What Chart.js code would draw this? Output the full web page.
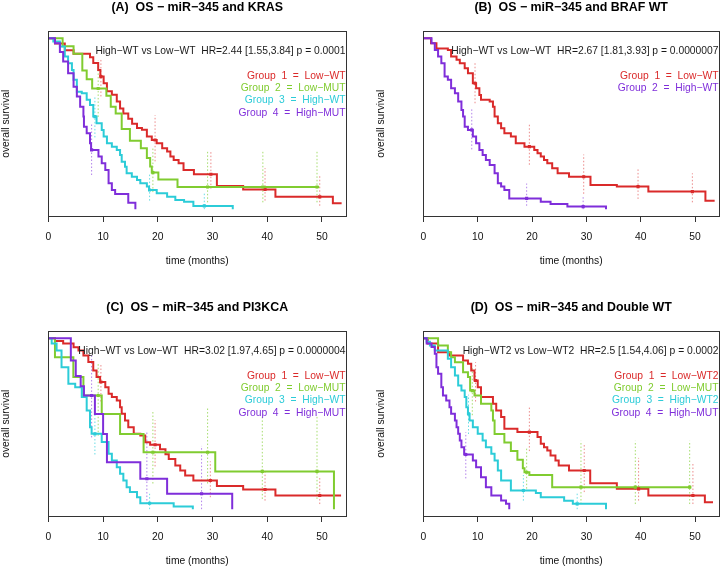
<!DOCTYPE html>
<html><head><meta charset="utf-8">
<script src="https://cdn.jsdelivr.net/npm/chart.js@4.4.1/dist/chart.umd.min.js"></script>
<style>
html,body{margin:0;padding:0;background:#fff;width:723px;height:567px;overflow:hidden;position:relative}
canvas{position:absolute;display:block}
</style></head><body>
<canvas id="cA" width="375" height="300" style="left:0;top:0"></canvas>
<canvas id="cB" width="348" height="300" style="left:375px;top:0"></canvas>
<canvas id="cC" width="375" height="267" style="left:0;top:300px"></canvas>
<canvas id="cD" width="348" height="267" style="left:375px;top:300px"></canvas>
<script>
// ---------- text ----------
const panelTitles = ["(A)  OS − miR−345 and KRAS","(B)  OS − miR−345 and BRAF WT","(C)  OS − miR−345 and PI3KCA","(D)  OS − miR−345 and Double WT"];
const hrTexts = ["High−WT vs Low−WT  HR=2.44 [1.55,3.84] p = 0.0001","High−WT vs Low−WT  HR=2.67 [1.81,3.93] p = 0.0000007","High−WT vs Low−WT  HR=3.02 [1.97,4.65] p = 0.0000004","High−WT2 vs Low−WT2  HR=2.5 [1.54,4.06] p = 0.0002"];
const groupsA = ["Group  1  =  Low−WT","Group  2  =  Low−MUT","Group  3  =  High−WT","Group  4  =  High−MUT"];
const groupsB = ["Group  1  =  Low−WT","Group  2  =  High−WT"];
const groupsC = ["Group  1  =  Low−WT","Group  2  =  Low−MUT","Group  3  =  High−WT","Group  4  =  High−MUT"];
const groupsD = ["Group  1  =  Low−WT2","Group  2  =  Low−MUT","Group  3  =  High−WT2","Group  4  =  High−MUT"];
const xTitle = "time (months)";
const yTitle = "overall survival";
const xTickStep = 10;

// ---------- survival curves: [time, survival] ----------
const A_g1 = [[0,1],[1.2,0.97],[3.0,0.93],[4.6,0.91],[7.6,0.89],[8.2,0.855],[9.1,0.815],[9.5,0.776],[10.1,0.737],[10.7,0.69],[11.6,0.67],[12.5,0.63],[13.1,0.59],[13.7,0.56],[14.6,0.53],[15.3,0.50],[16.2,0.475],[17.1,0.465],[18.0,0.425],[18.9,0.405],[19.8,0.386],[20.8,0.356],[21.7,0.337],[22.3,0.308],[22.9,0.288],[23.8,0.269],[24.7,0.23],[26.6,0.204],[30.8,0.135],[35.6,0.115],[41.5,0.072],[52.0,0.035],[53.6,0.035]];
const A_g2 = [[0,1],[2.6,0.953],[4.6,0.91],[6.2,0.812],[7.0,0.76],[8.0,0.706],[10.6,0.664],[11.4,0.60],[12.3,0.56],[13.4,0.47],[14.9,0.40],[16.9,0.357],[18.0,0.30],[18.6,0.25],[18.9,0.214],[20.1,0.173],[23.6,0.13],[49.5,0.13]];
const A_g3 = [[0,1],[0.9,0.981],[2.1,0.952],[3.0,0.893],[3.6,0.854],[4.3,0.815],[4.6,0.757],[5.2,0.688],[6.1,0.679],[7.0,0.64],[7.6,0.61],[8.2,0.542],[8.8,0.503],[9.75,0.464],[10.1,0.425],[10.7,0.386],[11.6,0.366],[12.5,0.347],[13.1,0.317],[13.4,0.278],[14.0,0.249],[14.3,0.21],[15.25,0.19],[16.2,0.171],[16.8,0.151],[18.0,0.132],[18.4,0.112],[19.8,0.093],[21.7,0.073],[23.2,0.054],[24.8,0.044],[26.5,0.019],[33.7,0.019],[33.7,0]];
const A_g4 = [[0,1],[1.2,0.971],[2.1,0.92],[2.7,0.864],[3.6,0.795],[4.6,0.717],[5.2,0.659],[5.8,0.6],[6.4,0.542],[6.5,0.483],[7.0,0.444],[7.6,0.386],[7.8,0.347],[9.15,0.308],[9.75,0.269],[10.4,0.23],[11.0,0.151],[11.6,0.112],[12.2,0.089],[14.6,0.038],[15.9,0]];

const B_g1 = [[0,1],[1.4,0.971],[2.4,0.94],[4.5,0.932],[5.1,0.893],[6.1,0.874],[6.7,0.854],[7.6,0.825],[8.2,0.795],[9.1,0.737],[9.7,0.708],[10.3,0.669],[10.6,0.64],[12.2,0.63],[12.8,0.6],[13.1,0.542],[13.7,0.503],[14.3,0.473],[14.9,0.444],[16.1,0.425],[17.0,0.386],[18.6,0.366],[20.4,0.347],[21.0,0.327],[21.6,0.308],[22.2,0.288],[22.8,0.269],[23.7,0.239],[24.7,0.21],[26.8,0.19],[30.75,0.142],[35.6,0.132],[41.4,0.103],[51.9,0.05],[53.6,0.05]];
const B_g2 = [[0,1],[1.5,0.971],[2.1,0.932],[2.7,0.893],[3.3,0.854],[3.9,0.776],[4.5,0.757],[5.1,0.708],[5.8,0.678],[6.4,0.63],[7.0,0.581],[7.3,0.542],[7.6,0.483],[8.2,0.464],[9.1,0.425],[9.7,0.386],[10.3,0.347],[10.9,0.317],[11.5,0.288],[12.2,0.259],[13.1,0.21],[13.7,0.151],[14.3,0.132],[14.9,0.112],[15.8,0.063],[21.6,0.044],[23.4,0.03],[26.5,0.015],[33.6,0.015],[33.6,0]];

const C_g1 = [[0,1],[1.2,0.985],[2.7,0.97],[4.6,0.948],[5.5,0.929],[6.4,0.90],[7.3,0.861],[8.2,0.812],[8.8,0.773],[9.45,0.744],[10.4,0.714],[11.0,0.675],[11.6,0.656],[12.5,0.636],[13.1,0.597],[13.4,0.558],[14.0,0.519],[14.6,0.48],[15.6,0.441],[16.8,0.431],[17.7,0.392],[18.6,0.377],[20.4,0.351],[21.4,0.322],[22.0,0.293],[23.2,0.256],[24.1,0.226],[25.0,0.197],[26.5,0.168],[30.8,0.135],[35.6,0.115],[41.5,0.08],[53.5,0.08]];
const C_g2 = [[0,1],[1.2,0.89],[4.56,0.773],[6.4,0.665],[9.75,0.557],[13.1,0.44],[17.4,0.333],[30.5,0.221],[52.2,0]];
const C_g3 = [[0,1],[0.6,0.97],[1.5,0.929],[2.4,0.831],[3.65,0.734],[4.9,0.714],[6.1,0.656],[7.0,0.578],[7.6,0.48],[7.9,0.441],[9.75,0.393],[11.0,0.324],[11.6,0.285],[12.5,0.246],[13.1,0.207],[13.7,0.168],[14.3,0.129],[14.9,0.10],[16.2,0.07],[16.8,0.035],[22.9,0.016],[26.4,0]];
const C_g4 = [[0,1],[4.1,0.87],[5.0,0.78],[5.9,0.72],[6.5,0.665],[8.5,0.557],[10.0,0.44],[10.7,0.275],[16.8,0.178],[21.7,0.09],[33.6,0]];

const D_g1 = [[0,1],[0.8,0.97],[2.7,0.919],[4.8,0.90],[7.3,0.87],[8.2,0.851],[8.8,0.812],[9.4,0.753],[10.0,0.714],[10.6,0.656],[12.8,0.617],[13.4,0.578],[14.3,0.539],[14.9,0.471],[17.3,0.451],[21.0,0.422],[21.6,0.383],[22.2,0.363],[22.8,0.344],[23.4,0.314],[24.3,0.285],[24.9,0.256],[26.8,0.226],[30.7,0.152],[35.6,0.119],[41.4,0.08],[51.8,0.041],[53.3,0.041]];
const D_g2 = [[0,1],[2.7,0.958],[4.5,0.919],[5.1,0.889],[5.8,0.86],[7.3,0.802],[8.2,0.773],[8.6,0.694],[9.4,0.665],[10.6,0.617],[12.5,0.578],[12.8,0.519],[13.1,0.44],[14.9,0.39],[16.1,0.34],[17.3,0.29],[18.3,0.24],[18.6,0.216],[19.5,0.2],[23.7,0.129],[49.3,0.129]];
const D_g3 = [[0,1],[0.6,0.98],[1.2,0.958],[2.1,0.929],[4.5,0.88],[5.1,0.831],[5.8,0.782],[6.4,0.724],[7.0,0.694],[7.6,0.656],[7.9,0.597],[8.2,0.558],[8.5,0.519],[9.1,0.48],[10.0,0.441],[10.9,0.402],[11.5,0.363],[12.5,0.324],[13.1,0.285],[13.7,0.226],[14.3,0.168],[16.1,0.109],[20.7,0.095],[21.6,0.07],[25.9,0.05],[27.5,0.031],[33.6,0.031],[33.6,0]];
const D_g4 = [[0,1],[0.6,0.97],[1.5,0.95],[2.1,0.91],[2.4,0.831],[2.7,0.792],[3.3,0.714],[3.6,0.665],[4.2,0.636],[4.8,0.597],[5.1,0.558],[5.8,0.519],[6.1,0.48],[6.4,0.441],[6.7,0.402],[7.0,0.363],[7.5,0.32],[9.1,0.285],[9.7,0.246],[10.6,0.187],[11.5,0.129],[12.5,0.08],[14.3,0.051],[15.2,0.031],[15.8,0]];

// ---------- marks with confidence bars: [time, survival, lower, upper] ----------
const A_m1 = [[9.6,0.776,0.66,0.88],[19.5,0.405,0.28,0.55],[29.7,0.204,0.12,0.34],[39.6,0.115,0.05,0.24],[49.6,0.072,0.02,0.2]];
const A_m2 = [[9.1,0.706,0.54,0.87],[19.1,0.214,0.10,0.36],[29.1,0.13,0.04,0.34],[39.2,0.13,0.04,0.34],[49.1,0.13,0.04,0.34]];
const A_m3 = [[8.5,0.542,0.42,0.66],[18.5,0.112,0.05,0.21],[28.5,0.019,0.0,0.10]];
const A_m4 = [[7.9,0.347,0.2,0.5]];
const B_m1 = [[9.5,0.737,0.62,0.86],[19.5,0.366,0.26,0.50],[29.5,0.19,0.09,0.32],[39.5,0.132,0.06,0.24],[49.5,0.103,0.04,0.21]];
const B_m2 = [[8.9,0.464,0.35,0.59],[19.0,0.063,0.02,0.15],[29.4,0.015,0.0,0.07]];
const C_m1 = [[9.6,0.744,0.63,0.85],[19.5,0.377,0.25,0.52],[29.6,0.168,0.07,0.28],[39.6,0.115,0.05,0.22],[49.6,0.08,0.03,0.19]];
const C_m2 = [[9.1,0.665,0.43,0.85],[19.1,0.333,0.15,0.58],[29.1,0.333,0.15,0.6],[39.1,0.221,0.06,0.54],[49.1,0.221,0.06,0.54]];
const C_m3 = [[8.5,0.441,0.32,0.56],[18.5,0.035,0.0,0.09]];
const C_m4 = [[7.9,0.665,0.42,0.9],[18.0,0.178,0.03,0.45],[28.0,0.09,0.0,0.37]];
const D_m1 = [[9.6,0.753,0.63,0.86],[19.5,0.451,0.34,0.6],[29.6,0.226,0.1,0.38],[39.6,0.119,0.05,0.3],[49.6,0.08,0.03,0.27]];
const D_m2 = [[9.0,0.694,0.55,0.83],[19.0,0.216,0.12,0.36],[29.0,0.129,0.03,0.4],[39.0,0.129,0.03,0.4],[49.0,0.129,0.03,0.4]];
const D_m3 = [[8.3,0.558,0.44,0.67],[18.4,0.109,0.05,0.2],[28.3,0.031,0.0,0.1]];
const D_m4 = [[7.8,0.32,0.18,0.45]];

// ---------- drawing ----------
const FONT = '"Liberation Sans", Arial, Helvetica, sans-serif';
const RED = '#DA2A2A', GREEN = '#80CC30', CYAN = '#2CCCD8', PURPLE = '#7F2EDA';
const RED_CI = 'rgba(222,60,60,0.6)', GREEN_CI = 'rgba(128,207,48,0.7)', CYAN_CI = 'rgba(44,207,218,0.7)', PURPLE_CI = 'rgba(127,46,221,0.6)';

const kmText = {
  id: 'kmText',
  afterDraw(chart, args, o) {
    const ctx = chart.ctx, a = chart.chartArea;
    ctx.save();
    ctx.strokeStyle = '#333'; ctx.lineWidth = 1;
    const l = Math.floor(a.left) + 0.5, t = Math.floor(a.top) + 0.5;
    const r = Math.floor(a.right) + 0.5, b = Math.floor(a.bottom) + 0.5;
    ctx.strokeRect(l, t, r - l, b - t);
    ctx.fillStyle = '#000';
    ctx.font = 'bold 12.4px ' + FONT;
    ctx.textAlign = 'center'; ctx.textBaseline = 'middle';
    ctx.fillText(o.title, (a.left + a.right) / 2, 7.5);
    ctx.font = '10.3px ' + FONT;
    ctx.textAlign = 'right';
    ctx.fillStyle = '#1a1a1a';
    ctx.fillText(o.header, a.right - 0.5, a.top + 19.6);
    o.labels.forEach((lab, i) => {
      ctx.fillStyle = o.colors[i];
      ctx.fillText(lab, a.right - 0.5, a.top + 44.2 + i * 12.45);
    });
    ctx.restore();
  }
};

function makePanel(id, W, H, title, header, labels, colors, ciColors, curves, marks) {
  const datasets = [];
  curves.forEach((c, i) => {
    const ci = [];
    marks[i].forEach(m => { ci.push({x: m[0], y: m[2]}, {x: m[0], y: m[3]}, {x: m[0], y: null}); });
    datasets.push({type: 'line', data: ci, borderColor: ciColors[i], borderWidth: 1, borderDash: [1.5, 2],
      pointRadius: 0, spanGaps: false, fill: false, order: 30 - i});
  });
  curves.forEach((c, i) => {
    datasets.push({type: 'line', data: c.map(p => ({x: p[0], y: p[1]})), stepped: 'before',
      borderColor: colors[i], borderWidth: 2, pointRadius: 0, fill: false, order: 20 - i,
      borderCapStyle: 'butt', borderJoinStyle: 'miter'});
  });
  curves.forEach((c, i) => {
    datasets.push({type: 'scatter', data: marks[i].map(m => ({x: m[0], y: m[1]})), showLine: false,
      pointStyle: 'rect', pointRadius: 2.2, backgroundColor: colors[i], borderColor: colors[i], borderWidth: 0, order: 10 - i});
  });
  const chartRight = W === 375 ? 346 : 346.5;
  new Chart(document.getElementById(id), {
    data: {datasets},
    options: {
      responsive: false, animation: false, devicePixelRatio: 1,
      layout: {padding: {left: 0, top: 31.5, right: W - chartRight, bottom: H - 216 - 51}},
      plugins: {legend: {display: false}, tooltip: {enabled: false},
        kmText: {title, header, labels, colors}},
      scales: {
        x: {type: 'linear', min: 0, max: 54.4,
          afterFit: s => { s.height = 51; },
          ticks: {stepSize: xTickStep, includeBounds: false, color: '#111', font: {family: FONT, size: 10.3}, padding: 8.5, maxRotation: 0},
          grid: {display: true, drawOnChartArea: false, drawTicks: true, tickLength: 6, color: '#333', lineWidth: 1},
          border: {display: false},
          title: {display: true, text: xTitle, color: '#111', font: {family: FONT, size: 10.3, lineHeight: 1.1}, padding: 0}},
        y: {type: 'linear', min: -0.04, max: 1.04, position: 'left',
          afterFit: s => { s.width = 48.4; },
          ticks: {display: false}, grid: {display: false}, border: {display: false},
          title: {display: true, text: yTitle, color: '#111', font: {family: FONT, size: 10.3, lineHeight: 1.1}, padding: 0}}
      }
    },
    plugins: [kmText]
  });
}

makePanel('cA', 375, 300, panelTitles[0], hrTexts[0], groupsA, [RED, GREEN, CYAN, PURPLE], [RED_CI, GREEN_CI, CYAN_CI, PURPLE_CI], [A_g1, A_g2, A_g3, A_g4], [A_m1, A_m2, A_m3, A_m4]);
makePanel('cB', 348, 300, panelTitles[1], hrTexts[1], groupsB, [RED, PURPLE], [RED_CI, PURPLE_CI], [B_g1, B_g2], [B_m1, B_m2]);
makePanel('cC', 375, 267, panelTitles[2], hrTexts[2], groupsC, [RED, GREEN, CYAN, PURPLE], [RED_CI, GREEN_CI, CYAN_CI, PURPLE_CI], [C_g1, C_g2, C_g3, C_g4], [C_m1, C_m2, C_m3, C_m4]);
makePanel('cD', 348, 267, panelTitles[3], hrTexts[3], groupsD, [RED, GREEN, CYAN, PURPLE], [RED_CI, GREEN_CI, CYAN_CI, PURPLE_CI], [D_g1, D_g2, D_g3, D_g4], [D_m1, D_m2, D_m3, D_m4]);
</script>
</body></html>
